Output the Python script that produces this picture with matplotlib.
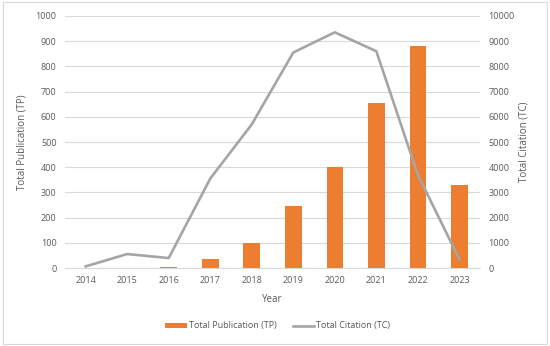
import numpy as np
from matplotlib import pyplot as plt

years = ["2014", "2015", "2016", "2017", "2018", "2019", "2020", "2021", "2022", "2023"]
total_publication = [0, 1, 5, 35, 100, 245, 400, 655, 880, 330]
total_citation = [70, 560, 400, 3550, 5700, 8550, 9350, 8600, 3700, 350]

txt = "#595959"
plt.rcParams['font.family'] = ['Open Sans', 'DejaVu Sans']

fig = plt.figure(figsize=(5.5, 3.46), dpi=100)
ax = fig.add_axes([0.118, 0.225, 0.755, 0.729])
x = np.arange(len(years))

bars = ax.bar(x, total_publication, width=0.4, color="#ED7D31", zorder=2,
              label="Total Publication (TP)")
ax.set_ylim(0, 1000)
ax.set_yticks(np.arange(0, 1001, 100))
ax.set_xlim(-0.5, len(years) - 0.5)
ax.set_xticks(x)
ax.set_xticklabels(years)
ax.grid(axis="y", color="#D9D9D9", linewidth=0.8, zorder=0)
ax.set_axisbelow(True)
ax.set_ylabel("Total Publication (TP)", fontsize=7, color=txt, labelpad=6)
ax.set_xlabel("Year", fontsize=7, color=txt, labelpad=6)

ax2 = ax.twinx()
line, = ax2.plot(x, total_citation, color="#A5A5A5", linewidth=1.9, zorder=3,
                 label="Total Citation (TC)")
ax2.set_ylim(0, 10000)
ax2.set_yticks(np.arange(0, 10001, 1000))
ax2.set_ylabel("Total Citation (TC)", fontsize=7, color=txt, labelpad=3)

for a in (ax, ax2):
    for s in a.spines.values():
        s.set_visible(False)
    a.tick_params(length=0, labelsize=6.5, labelcolor=txt, pad=6)
ax.spines["bottom"].set_visible(True)
ax.spines["bottom"].set_color("#D9D9D9")

fig.legend([bars, line], ["Total Publication (TP)", "Total Citation (TC)"],
           loc="center", bbox_to_anchor=(0.505, 0.058), ncol=2, frameon=False,
           fontsize=6.5, labelcolor=txt, handlelength=2.4, handleheight=0.45,
           columnspacing=1.8, handletextpad=0.2)

fig.patches.append(plt.Rectangle((0.005, 0.005), 0.99, 0.99, transform=fig.transFigure,
                                 fill=False, edgecolor="#D9D9D9", linewidth=0.8))

fig.savefig("out.png", dpi=100)
